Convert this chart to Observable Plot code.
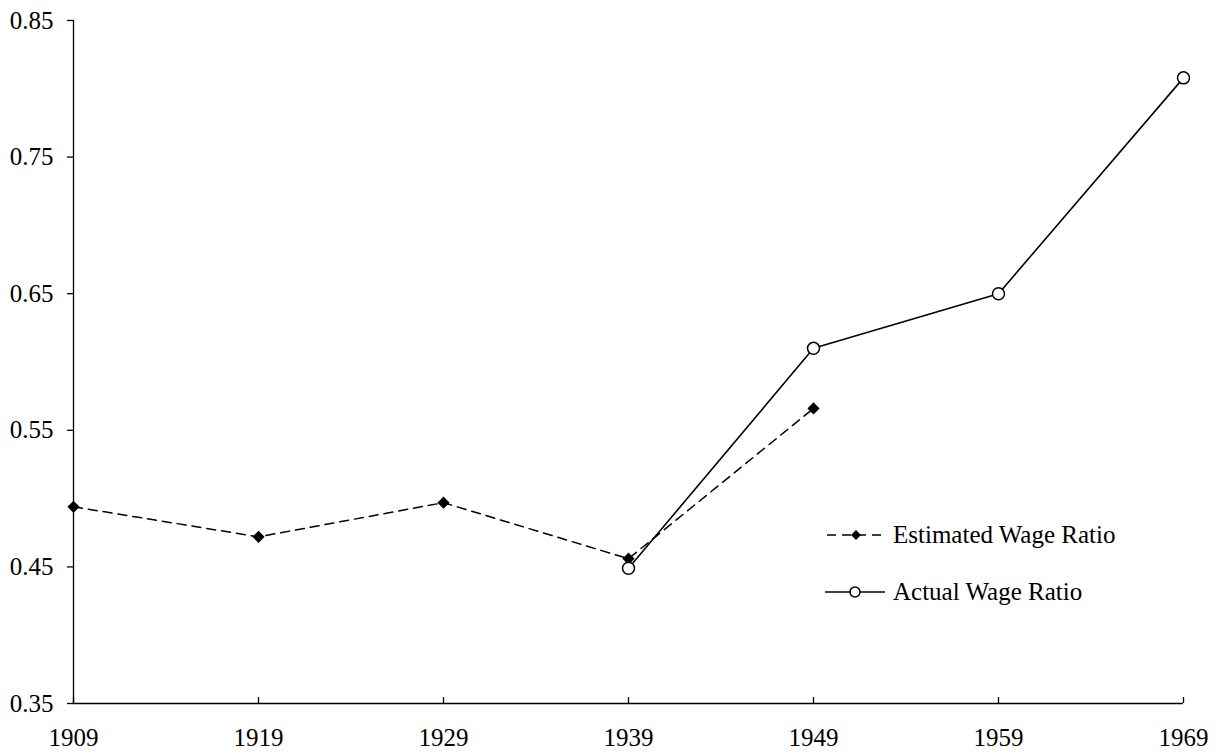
<!DOCTYPE html>
<html>
<head>
<meta charset="utf-8">
<script src="https://cdn.jsdelivr.net/npm/d3@7"></script>
<script src="https://cdn.jsdelivr.net/npm/@observablehq/plot@0.6"></script>
<style>
  html, body { margin: 0; padding: 0; background: #fff; }
  #wrap { position: relative; width: 1218px; height: 754px; font-family: "Liberation Serif", "Times New Roman", serif; }
  #legend { position: absolute; left: 825px; top: 506px; font-size: 25px; color: #000; }
  .row { display: flex; align-items: center; height: 57px; }
  .row svg { margin-right: 6px; }
</style>
</head>
<body>
<div id="wrap"></div>
<script>
const years = [1909, 1919, 1929, 1939, 1949, 1959, 1969];
const estYears = [1909, 1919, 1929, 1939, 1949];
const estimated = [0.494, 0.472, 0.497, 0.456, 0.566];
const actYears = [1939, 1949, 1959, 1969];
const actual = [0.449, 0.610, 0.650, 0.808];
const yTicks = [0.35, 0.45, 0.55, 0.65, 0.75, 0.85];
const seriesNames = ["Estimated Wage Ratio", "Actual Wage Ratio"];

const est = estYears.map((y, i) => ({year: y, value: estimated[i]}));
const act = actYears.map((y, i) => ({year: y, value: actual[i]}));

const chart = Plot.plot({
  width: 1218,
  height: 754,
  marginLeft: 73,
  marginRight: 35,
  marginTop: 20,
  marginBottom: 51,
  style: {fontFamily: '"Liberation Serif", "Times New Roman", serif', fontSize: "25px", color: "#000", background: "#fff"},
  x: {domain: [1909, 1969]},
  y: {domain: [0.35, 0.85]},
  marks: [
    Plot.ruleY([0.35], {stroke: "#000", strokeWidth: 1.3}),
    Plot.ruleX([1909], {stroke: "#000", strokeWidth: 1.3}),
    Plot.axisY({ticks: yTicks, tickFormat: d3.format(".2f"), tickSize: 6, tickPadding: 14, strokeWidth: 1.3, fontSize: 25, label: null}),
    Plot.axisX({ticks: years, text: null, tickSize: 6, dy: -6, strokeWidth: 1.3, label: null}),
    Plot.axisX({ticks: years, tickFormat: d3.format("d"), tickSize: 0, tickPadding: 25, fontSize: 25, label: null}),
    Plot.line(est, {x: "year", y: "value", stroke: "#000", strokeWidth: 1.5, strokeDasharray: "9,6"}),
    Plot.dot(est, {x: "year", y: "value", symbol: "diamond2", r: 5.5, fill: "#000", stroke: "none"}),
    Plot.line(act, {x: "year", y: "value", stroke: "#000", strokeWidth: 1.6}),
    Plot.dot(act, {x: "year", y: "value", symbol: "circle", r: 6, fill: "#fff", stroke: "#000", strokeWidth: 1.5})
  ]
});

const wrap = document.getElementById("wrap");
wrap.appendChild(chart);

const legend = document.createElement("div");
legend.id = "legend";
legend.innerHTML = `
  <div class="row"><svg width="62" height="20"><line x1="2" y1="10" x2="60" y2="10" stroke="#000" stroke-width="1.6" stroke-dasharray="9,6"/><path d="M31,5 L36,10 L31,15 L26,10 Z" fill="#000"/></svg><span>${seriesNames[0]}</span></div>
  <div class="row"><svg width="62" height="20"><line x1="0" y1="10" x2="60" y2="10" stroke="#000" stroke-width="1.6"/><circle cx="30" cy="10" r="5" fill="#fff" stroke="#000" stroke-width="1.5"/></svg><span>${seriesNames[1]}</span></div>`;
wrap.appendChild(legend);
</script>
</body>
</html>
